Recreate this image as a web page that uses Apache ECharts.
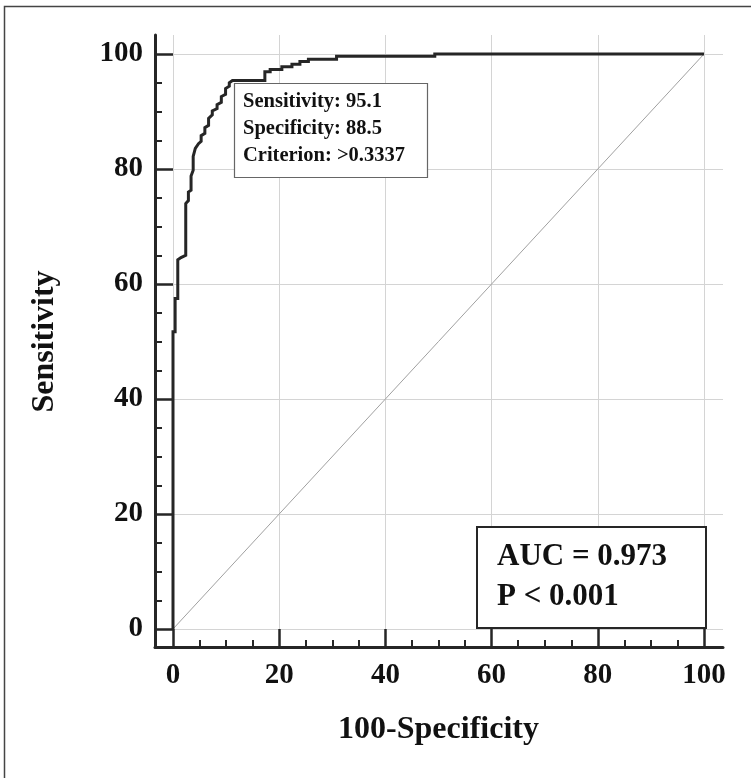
<!DOCTYPE html>
<html>
<head>
<meta charset="utf-8">
<script src="https://cdn.jsdelivr.net/npm/echarts@6/dist/echarts.min.js"></script>
<style>
  html, body { margin: 0; padding: 0; background: #fff; }
  #container { width: 751px; height: 778px; }
</style>
</head>
<body>
<div id="container"></div>
<script>
// ROC curve: x = 100-Specificity, y = Sensitivity
const fpr = [0, 0, 0.4, 0.4, 0.9, 0.9, 1.5, 2.4, 2.4, 2.9, 2.9, 3.4, 3.4, 3.8, 3.8, 4.2, 4.8,
  5.3, 5.3, 6.0, 6.0, 6.7, 6.7, 7.4, 7.4, 8.3, 8.3, 9.1, 9.1, 9.9, 9.9, 10.6, 10.6, 11.2,
  17.3, 17.3, 18.3, 18.3, 20.5, 20.5, 22.4, 22.4, 23.9, 23.9, 25.5, 25.5, 30.8, 30.8, 49.3, 49.3, 100];
const tpr = [0, 51.7, 51.7, 57.5, 57.5, 64.2, 64.6, 65.0, 74.0, 74.5, 76.0, 76.3, 78.8, 79.8, 82.2, 83.6, 84.4,
  84.8, 85.8, 86.2, 87.2, 87.6, 88.8, 89.4, 90.1, 90.5, 91.2, 91.6, 92.6, 93.0, 94.0, 94.4, 95.0, 95.4,
  95.4, 96.9, 96.9, 97.3, 97.3, 97.8, 97.8, 98.2, 98.2, 98.7, 98.7, 99.1, 99.1, 99.6, 99.6, 100, 100];
const chanceX = [0, 100];
const chanceY = [0, 100];
const tickValues = [0, 20, 40, 60, 80, 100];
const cutoffLines = ['Sensitivity: 95.1', 'Specificity: 88.5', 'Criterion: >0.3337'];
const aucLines = ['AUC = 0.973', 'P < 0.001'];

const chart = echarts.init(document.getElementById('container'));
const serif = 'Liberation Serif';
const ink = '#262626';

// plot box (0..100 on both axes), in pixels
const W = 751, H = 778;
const plot = { left: 173, right: 47, top: 54, bottom: 149 };
const over = 19;   // grid lines and axis lines run past 100
const off = 18;    // axis lines sit this far outside the plot box
const plotW = W - plot.left - plot.right;
const plotH = H - plot.top - plot.bottom;

const labelStyle = { fontFamily: serif, fontWeight: 'bold', fontSize: 29, color: '#111' };
const nameStyle = { fontFamily: serif, fontWeight: 'bold', fontSize: 32, color: '#111' };

function hidden(gridIndex) {
  return {
    type: 'value', gridIndex, min: 0, max: 1,
    axisLine: { show: false }, axisTick: { show: false },
    axisLabel: { show: false }, splitLine: { show: false }
  };
}

const frameAxis = gi => Object.assign(hidden(gi), {
  axisLine: { show: true, onZero: false, lineStyle: { color: ink, width: 3 } }
});

const gridAxis = (gi, max) => Object.assign(hidden(gi), {
  max,
  axisTick: { show: false, customValues: tickValues },
  splitLine: { show: true, lineStyle: { color: '#d4d4d4', width: 1 } }
});

const plotAxis = (name, gap, margin) => ({
  type: 'value', gridIndex: 2, min: 0, max: 100, interval: 20, offset: off,
  axisLine: { show: false, onZero: false },
  axisTick: { show: true, inside: true, length: off, lineStyle: { color: ink, width: 2.5 } },
  minorTick: { show: true, splitNumber: 4, length: 7, lineStyle: { color: ink, width: 2 } },
  splitLine: { show: false },
  axisLabel: Object.assign({ margin }, labelStyle),
  name, nameLocation: 'middle', nameGap: gap, nameTextStyle: nameStyle
});

function textBlock(lines, x, y0, step, size) {
  return lines.map((t, i) => ({
    type: 'text', x, y: y0 + i * step, z: 101,
    style: { text: t, fontFamily: serif, fontWeight: 'bold', fontSize: size, fill: '#111', verticalAlign: 'middle' }
  }));
}

const option = {
  animation: false,
  backgroundColor: '#fff',
  grid: [
    { left: plot.left - off, right: plot.right - over, top: plot.top - over, bottom: plot.bottom - off },
    { left: plot.left, right: plot.right - over, top: plot.top - over, bottom: plot.bottom },
    plot
  ],
  xAxis: [
    frameAxis(0),
    gridAxis(1, 100 * (plotW + over) / plotW),
    plotAxis('100-Specificity', 67, 14)
  ],
  yAxis: [
    frameAxis(0),
    gridAxis(1, 100 * (plotH + over) / plotH),
    plotAxis('Sensitivity', 94, 12)
  ],
  series: [
    {
      type: 'line', xAxisIndex: 2, yAxisIndex: 2, symbol: 'none', silent: true,
      data: chanceX.map((x, i) => [x, chanceY[i]]),
      lineStyle: { color: '#a0a0a0', width: 1 }, z: 3
    },
    {
      type: 'line', xAxisIndex: 2, yAxisIndex: 2, symbol: 'none', clip: false,
      data: fpr.map((x, i) => [x, tpr[i]]),
      lineStyle: { color: ink, width: 3, join: 'miter' }, z: 4
    }
  ],
  graphic: [
    { type: 'rect', z: 99, shape: { x: 4.5, y: 6.5, width: 900, height: 900 },
      style: { fill: 'none', stroke: '#444', lineWidth: 1.5 } },
    { type: 'rect', z: 100, shape: { x: 234.5, y: 83.5, width: 193, height: 94 },
      style: { fill: '#fff', stroke: '#666', lineWidth: 1.2 } },
    ...textBlock(cutoffLines, 243, 102, 27, 20.5),
    { type: 'rect', z: 100, shape: { x: 477, y: 527, width: 229, height: 101 },
      style: { fill: '#fff', stroke: ink, lineWidth: 2 } },
    ...textBlock(aucLines, 497, 557, 40, 31)
  ]
};

chart.setOption(option);
</script>
</body>
</html>
